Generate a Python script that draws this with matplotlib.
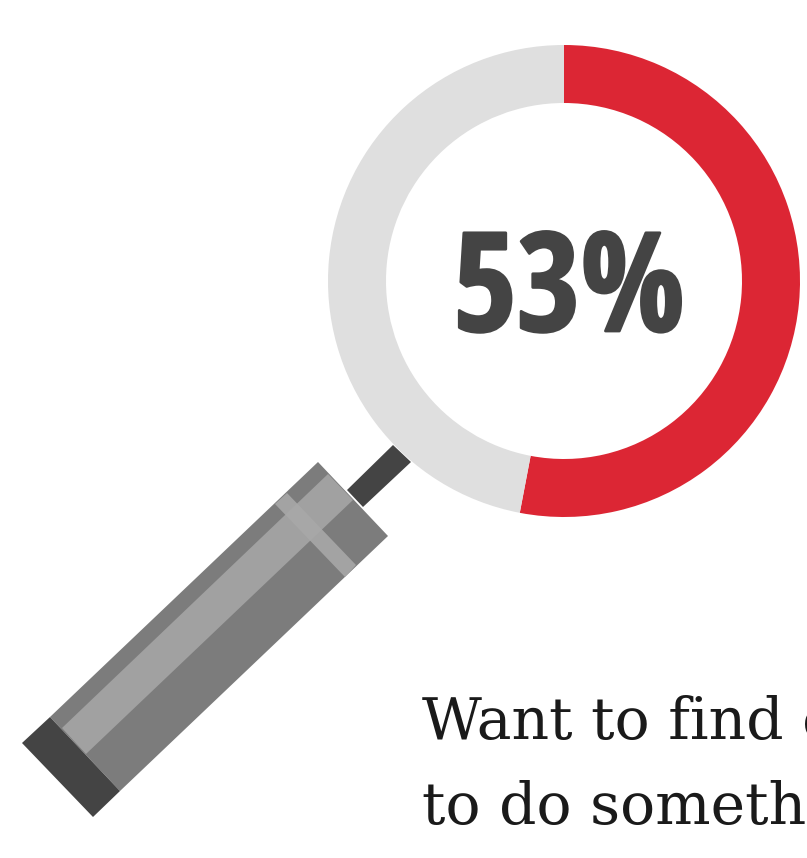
import matplotlib
matplotlib.use('Agg')
import matplotlib.pyplot as plt
import matplotlib.patheffects as pe
from matplotlib.patches import Polygon

# Ring values, share first then the remainder
shares = [53, 47]
ring_colors = ['#dc2634', '#dfdfdf']
center_label = '53%'

text_lines = ['Want to find o', 'to do someth']

# Magnifier handle outlines in pixel coordinates
neck = [(347, 490), (393, 445), (411, 462), (363, 507)]
body = [(50, 717), (318, 462), (388, 536), (120, 791)]
stripe = [(62, 728), (328, 474), (353, 500), (86, 754)]
band = [(287, 493), (275, 504), (345, 577), (356, 565)]
cap = [(22, 743), (50, 717), (120, 791), (93, 817)]

fig = plt.figure(figsize=(8.07, 8.58), dpi=100, facecolor='white')
ax = fig.add_axes([0, 0, 1, 1])

# Neck goes first so the ring covers its end
ax.add_patch(Polygon(neck, closed=True, facecolor='#444444', edgecolor='none', zorder=0.5))

# y axis is flipped below, so increasing angles run clockwise from the top
ax.pie(shares, colors=ring_colors, center=(564, 281), radius=236,
       startangle=-90, counterclock=True,
       wedgeprops={'width': 58, 'linewidth': 0})

ax.add_patch(Polygon(body, closed=True, facecolor='#7c7c7c', edgecolor='none', zorder=2))
ax.add_patch(Polygon(stripe, closed=True, facecolor='#a1a1a1', edgecolor='none', zorder=3))
ax.add_patch(Polygon(band, closed=True, facecolor='#a8a8a8', edgecolor='none', alpha=0.9, zorder=4))
ax.add_patch(Polygon(cap, closed=True, facecolor='#444444', edgecolor='none', zorder=5))

ax.set_xlim(0, 807)
ax.set_ylim(858, 0)
ax.set_aspect('equal')
ax.axis('off')

# Thin stroke thickens the condensed face a little
label = ax.text(569, 331, center_label, ha='center', va='baseline', fontsize=99, fontweight='bold',
                color='#444444', family=['Open Sans Condensed', 'Roboto Condensed', 'Liberation Sans'])
label.set_path_effects([pe.withStroke(linewidth=2, foreground='#444444')])

serif = ['DejaVu Serif', 'Liberation Serif']
ax.text(422, 739, text_lines[0], ha='left', va='baseline', fontsize=42, color='#1a1a1a', family=serif)
ax.text(422, 824, text_lines[1], ha='left', va='baseline', fontsize=42, color='#1a1a1a', family=serif)

fig.savefig('out.png', dpi=100)
